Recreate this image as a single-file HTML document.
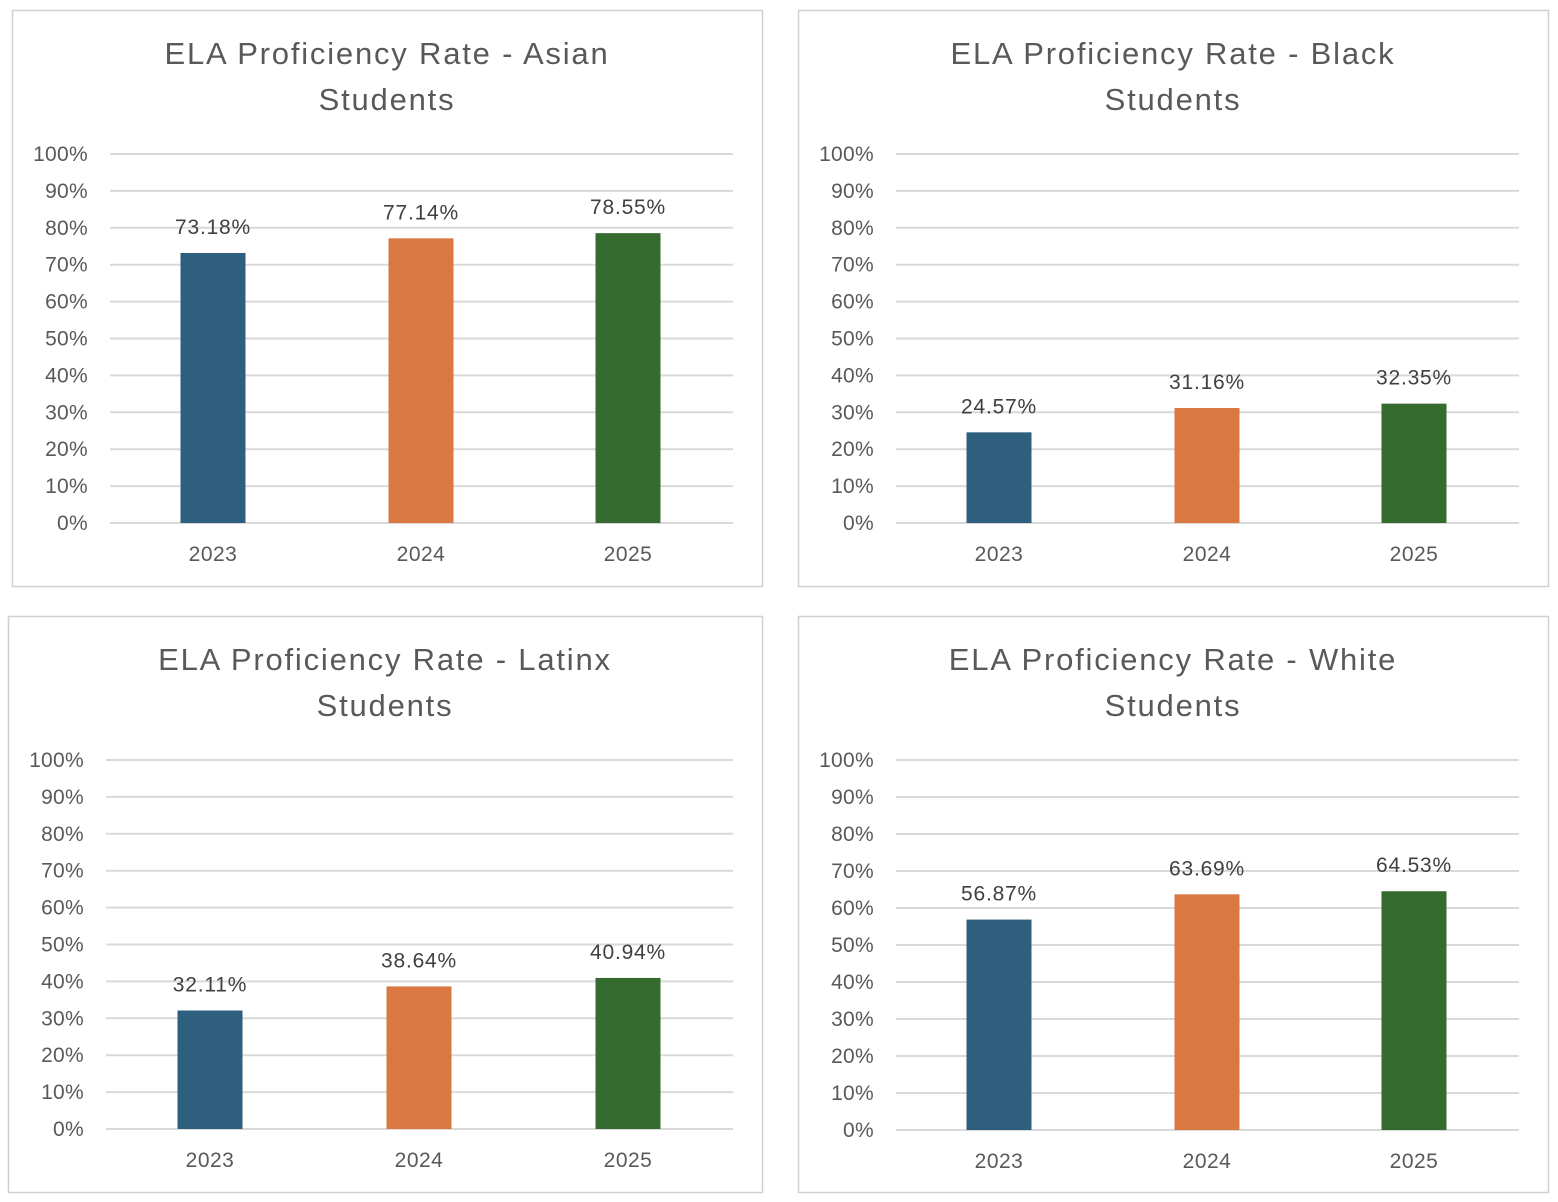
<!DOCTYPE html>
<html><head><meta charset="utf-8"><style>
html,body{margin:0;padding:0;background:#fff;width:1558px;height:1202px;overflow:hidden}
svg{display:block;font-family:"Liberation Sans",sans-serif}
</style></head><body>
<svg id="s" width="1558" height="1202" viewBox="0 0 1558 1202"></svg>
<script>
const categories=["2023","2024","2025"];
const asianValues=[73.18,77.14,78.55];
const blackValues=[24.57,31.16,32.35];
const latinxValues=[32.11,38.64,40.94];
const whiteValues=[56.87,63.69,64.53];
const groups=["Asian","Black","Latinx","White"];
const tickLabels=["0%","10%","20%","30%","40%","50%","60%","70%","80%","90%","100%"];
const colors=["#2E5F7F","#D97841","#356B2E"];
const panels=[
 {vals:asianValues,bx:12,by:10,bw:750,bh:576,gx0:110,gx1:733,gy0:523,gy1:154,cx:[213,421,628],tx:387},
 {vals:blackValues,bx:798,by:10,bw:750,bh:576,gx0:896,gx1:1519,gy0:523,gy1:154,cx:[999,1207,1414],tx:1173},
 {vals:latinxValues,bx:8,by:616,bw:754,bh:576,gx0:106,gx1:733,gy0:1129,gy1:760,cx:[210,419,628],tx:385},
 {vals:whiteValues,bx:798,by:616,bw:750,bh:576,gx0:896,gx1:1519,gy0:1130,gy1:760,cx:[999,1207,1414],tx:1173}
];
const NS="http://www.w3.org/2000/svg";
const svg=document.getElementById('s');
function mk(t,a,p){const e=document.createElementNS(NS,t);for(const k in a)e.setAttribute(k,a[k]);(p||svg).appendChild(e);return e;}
panels.forEach((p,i)=>{
 const g=mk('g',{});
 
 
 const r=mk('rect',{x:p.bx+0.5,y:p.by+0.5,width:p.bw,height:p.bh,fill:'#fff',stroke:'#D0D0D0','stroke-width':1.5},g);
 
 
 const yS=v=>p.gy0+(p.gy1-p.gy0)*v/100;
 const t1=mk('text',{x:p.tx,y:p.by+54,'text-anchor':'middle','font-size':31,'letter-spacing':1.8,fill:'#595959'},g);
 t1.textContent='ELA Proficiency Rate - '+groups[i];
 
 
 const t2=mk('text',{x:p.tx,y:p.by+100,'text-anchor':'middle','font-size':31,'letter-spacing':1.8,fill:'#595959'},g);
 t2.textContent='Students';
 
 
 tickLabels.forEach((lab,k)=>{
  const y=yS(k*10);
  const l=mk('line',{x1:p.gx0,x2:p.gx1,y1:y,y2:y,stroke:'#D9D9D9','stroke-width':2},g);
  
  
  const t=mk('text',{x:p.gx0-22,y:y+7,'text-anchor':'end','font-size':21,'letter-spacing':0.3,fill:'#595959'},g);
  t.textContent=lab;
  
  
 });
 categories.forEach((c,j)=>{
  const v=p.vals[j],y=yS(v),x=p.cx[j];
  const b=mk('rect',{x:x-32.5,y:y,width:65,height:p.gy0-y,fill:colors[j]},g);
  
  
  const vl=mk('text',{x:x,y:y-19,'text-anchor':'middle','font-size':21,'letter-spacing':0.8,fill:'#404040'},g);
  vl.textContent=v.toFixed(2)+'%';
  
  
  const cl=mk('text',{x:x,y:p.gy0+38,'text-anchor':'middle','font-size':21,'letter-spacing':0.5,fill:'#595959'},g);
  cl.textContent=c;
  
  
 });
});
</script>
</body></html>
